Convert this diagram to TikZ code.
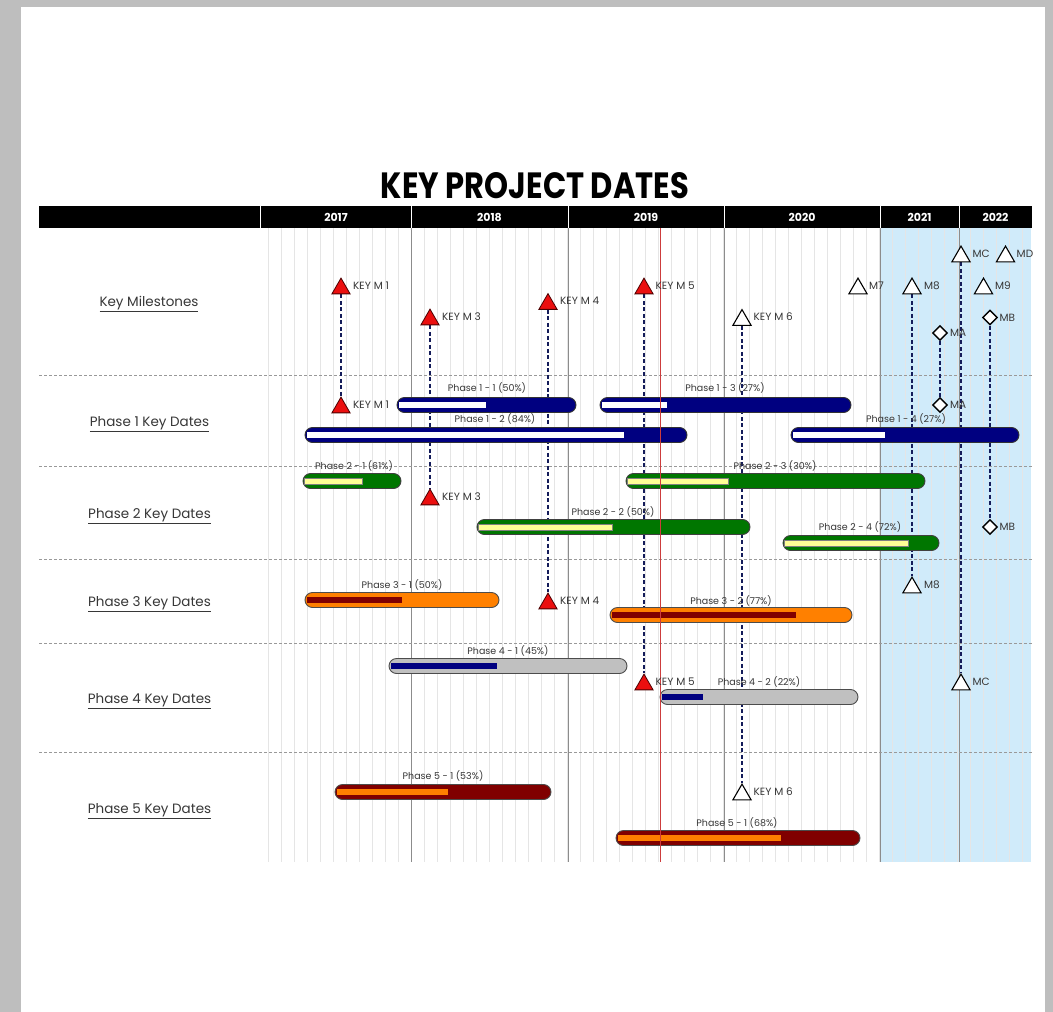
\documentclass[tikz,border=0pt]{standalone}
\usepackage{fontspec}
\setmainfont{Poppins}
\usetikzlibrary{shapes.geometric}
\pgfdeclarelayer{bg}
\pgfdeclarelayer{lines}
\pgfsetlayers{bg,lines,main}
\definecolor{navybar}{RGB}{0,0,128}
\definecolor{dashnavy}{RGB}{20,28,90}
\definecolor{greenbar}{RGB}{0,118,0}
\definecolor{yellowprog}{RGB}{255,255,150}
\definecolor{orangebar}{RGB}{255,128,0}
\definecolor{darkredbar}{RGB}{128,0,0}
\definecolor{graybar}{RGB}{192,192,192}
\definecolor{shadeblue}{RGB}{208,235,250}
\definecolor{pagegray}{RGB}{190,190,190}
\definecolor{todayred}{RGB}{205,60,60}
\definecolor{msred}{RGB}{235,15,15}
\definecolor{txtgray}{RGB}{55,55,55}
\tikzset{
  barbase/.style={rounded corners=7.5pt, line width=0.9pt},
  ponebar/.style={fill=navybar, draw=black!80},
  poneprog/.style={fill=white},
  ptwobar/.style={fill=greenbar, draw=black!75},
  ptwoprog/.style={fill=yellowprog, draw=black!50, line width=0.4pt},
  pthreebar/.style={fill=orangebar, draw=black!70},
  pthreeprog/.style={fill=darkredbar},
  pfourbar/.style={fill=graybar, draw=black!70},
  pfourprog/.style={fill=navybar},
  pfivebar/.style={fill=darkredbar, draw=black!70},
  pfiveprog/.style={fill=orangebar},
  barlabel/.style={font=\fontsize{9.5}{10}\selectfont, text=txtgray, inner sep=0pt, anchor=base},
  redms/.style={regular polygon, regular polygon sides=3, minimum size=21pt, inner sep=0pt, fill=msred, draw=black!70!red, line width=0.8pt},
  whitems/.style={regular polygon, regular polygon sides=3, minimum size=21pt, inner sep=0pt, fill=white, draw=black, line width=1.1pt},
  diams/.style={diamond, minimum width=15pt, minimum height=15pt, inner sep=0pt, fill=white, draw=black, line width=1.4pt},
  mslabel/.style={font=\fontsize{10.5}{11}\selectfont, text=txtgray, inner sep=0pt, anchor=west},
  msline/.style={draw=dashnavy, line width=1.8pt, dash pattern=on 4pt off 2.5pt},
  rowlabel/.style={font=\fontsize{13.5}{14}\selectfont, text=txtgray, inner sep=0pt, anchor=base},
  yearlabel/.style={font=\bfseries\fontsize{11}{12}\selectfont, text=white, inner sep=0pt},
  gridline/.style={draw=black!10, line width=0.6pt},
  yearline/.style={draw=black!45, line width=0.8pt},
  sepline/.style={draw=black!40, line width=0.7pt, dash pattern=on 3pt off 2pt},
}
\newcommand\gbar[9]{%
  \draw[barbase,#6bar] ({#2},{#4-7.5}) rectangle ({#3},{#4+7.5});
  \path[#6prog] ({#2+1.5},{#4-3}) rectangle ({#5},{#4+3});
  \node[barlabel] (#1) at ({#8},{#9+3.4}) {#7};
}
\begin{document}
\begin{tikzpicture}[x=1pt,y=-1pt]
\useasboundingbox (0,0) rectangle (1053,1012);
\begin{pgfonlayer}{bg}
% page
\fill[pagegray] (0,0) rectangle (1053,1012);
\fill[white] (21,7) rectangle (1045,1012);
% shaded future area
\fill[shadeblue] (880,228) rectangle (1031,862);
% grid
\foreach \i in {0,...,58} \draw[gridline] ({268+13*\i},228) -- ({268+13*\i},862);
\foreach \xx in {411,568,724,880,959} \draw[yearline] (\xx,228) -- (\xx,862);
% separators
\foreach \yy in {375,466,559,643,752} \draw[sepline] (39,\yy) -- (1033,\yy);
% header
\fill[black] (39,206) rectangle (1032,228);
\foreach \xx in {260,411,568,724,880,959} \draw[white, line width=0.8pt] (\xx,206) -- (\xx,228);
\end{pgfonlayer}
% title
\node[inner sep=0pt] (title) at (535,186) {\resizebox{308pt}{26pt}{\bfseries KEY PROJECT DATES}};
\node[yearlabel] (y17) at (336,217.5) {2017};
\node[yearlabel] (y18) at (489.5,217.5) {2018};
\node[yearlabel] (y19) at (646,217.5) {2019};
\node[yearlabel] (y20) at (802,217.5) {2020};
\node[yearlabel] (y21) at (919.5,217.5) {2021};
\node[yearlabel] (y22) at (995.5,217.5) {2022};
% row labels
\node[rowlabel] (r0) at (149,306.2) {\underline{Key Milestones}};
\node[rowlabel] (r1) at (149.5,426.2) {\underline{Phase 1 Key Dates}};
\node[rowlabel] (r2) at (149.5,518.2) {\underline{Phase 2 Key Dates}};
\node[rowlabel] (r3) at (149.5,606.2) {\underline{Phase 3 Key Dates}};
\node[rowlabel] (r4) at (149.5,703.2) {\underline{Phase 4 Key Dates}};
\node[rowlabel] (r5) at (149.5,813.2) {\underline{Phase 5 Key Dates}};
% bars
\gbar{b11}{397}{576}{405}{486}{pone}{Phase 1 - 1 (50\%)}{487}{388}
\gbar{b12}{305}{687}{435}{624}{pone}{Phase 1 - 2 (84\%)}{495}{419}
\gbar{b13}{600}{851}{405}{667}{pone}{Phase 1 - 3 (27\%)}{725}{388}
\gbar{b14}{791}{1019}{435}{885}{pone}{Phase 1 - 4 (27\%)}{906}{419}
\gbar{b21}{303}{401}{481}{362}{ptwo}{Phase 2 - 1 (61\%)}{354}{466}
\gbar{b22}{477}{750}{527}{612}{ptwo}{Phase 2 - 2 (50\%)}{613}{512}
\gbar{b23}{626}{925}{481}{728}{ptwo}{Phase 2 - 3 (30\%)}{775}{466}
\gbar{b24}{783}{939}{543}{908}{ptwo}{Phase 2 - 4 (72\%)}{860}{527}
\gbar{b31}{305}{499}{600}{402}{pthree}{Phase 3 - 1 (50\%)}{402}{585}
\gbar{b32}{610}{852}{615}{796}{pthree}{Phase 3 - 2 (77\%)}{731}{601}
\gbar{b41}{389}{627}{666}{497}{pfour}{Phase 4 - 1 (45\%)}{508}{651}
\gbar{b42}{660}{858}{697}{703}{pfour}{Phase 4 - 2 (22\%)}{759}{682}
\gbar{b51}{335}{551}{792}{448}{pfive}{Phase 5 - 1 (53\%)}{443}{776}
\gbar{b52}{616}{860}{838}{781}{pfive}{Phase 5 - 1 (68\%)}{737}{823}
% today line
\draw[todayred, line width=0.9pt] (660,228) -- (660,862);
% milestones
\path
  (341,288.6)   node[redms] (km1) {}
  (341,407.6)   node[redms] (km1b) {}
  (430,319.6)   node[redms] (km3) {}
  (430,499.6)   node[redms] (km3b) {}
  (548,304.1)   node[redms] (km4) {}
  (548,603.6)   node[redms] (km4b) {}
  (644,288.6)   node[redms] (km5) {}
  (644,684.6)   node[redms] (km5b) {}
  (742,320.1)   node[whitems] (km6) {}
  (742,794.6)   node[whitems] (km6b) {}
  (858,288.6)   node[whitems] (m7) {}
  (912,288.6)   node[whitems] (m8) {}
  (912,587.6)   node[whitems] (m8b) {}
  (983.5,288.6) node[whitems] (m9) {}
  (961,256.6)   node[whitems] (mc) {}
  (961,684.6)   node[whitems] (mcb) {}
  (1005.5,256.6) node[whitems] (md) {}
  (940,333)     node[diams] (ma) {}
  (940,405)     node[diams] (mab) {}
  (990,317.5)   node[diams] (mb) {}
  (990,527)     node[diams] (mbb) {};
% connectors (below bars)
\begin{pgfonlayer}{lines}
\draw[msline] (km1.south) -- (km1b.north);
\draw[msline] (km3.south) -- (km3b.north);
\draw[msline] (km4.south) -- (km4b.north);
\draw[msline] (km5.south) -- (km5b.north);
\draw[msline] (km6.south) -- (km6b.north);
\draw[msline] (m8.south) -- (m8b.north);
\draw[msline] (mc.south) -- (mcb.north);
\draw[msline] (ma.south) -- (mab.north);
\draw[msline] (mb.south) -- (mbb.north);
\end{pgfonlayer}
% milestone labels
\node[mslabel] (km1l) at (353,286) {KEY M 1};
\node[mslabel] (km1bl) at (353,405) {KEY M 1};
\node[mslabel] (km3l) at (442,317) {KEY M 3};
\node[mslabel] (km3bl) at (442,497) {KEY M 3};
\node[mslabel] (km4l) at (560,301) {KEY M 4};
\node[mslabel] (km4bl) at (560,601) {KEY M 4};
\node[mslabel] (km5l) at (655.5,286) {KEY M 5};
\node[mslabel] (km5bl) at (655.5,682) {KEY M 5};
\node[mslabel] (km6l) at (753.5,317) {KEY M 6};
\node[mslabel] (km6bl) at (753.5,792) {KEY M 6};
\node[mslabel] (m7l) at (869,286) {M7};
\node[mslabel] (m8l) at (924,286) {M8};
\node[mslabel] (m8bl) at (924,585) {M8};
\node[mslabel] (m9l) at (995,286) {M9};
\node[mslabel] (mcl) at (972.5,254) {MC};
\node[mslabel] (mcbl) at (972.5,682) {MC};
\node[mslabel] (mdl) at (1016.5,254) {MD};
\node[mslabel] (mal) at (950,333) {MA};
\node[mslabel] (mabl) at (950,405) {MA};
\node[mslabel] (mbl) at (999.5,317.5) {MB};
\node[mslabel] (mbbl) at (999.5,527) {MB};
\end{tikzpicture}
\end{document}
